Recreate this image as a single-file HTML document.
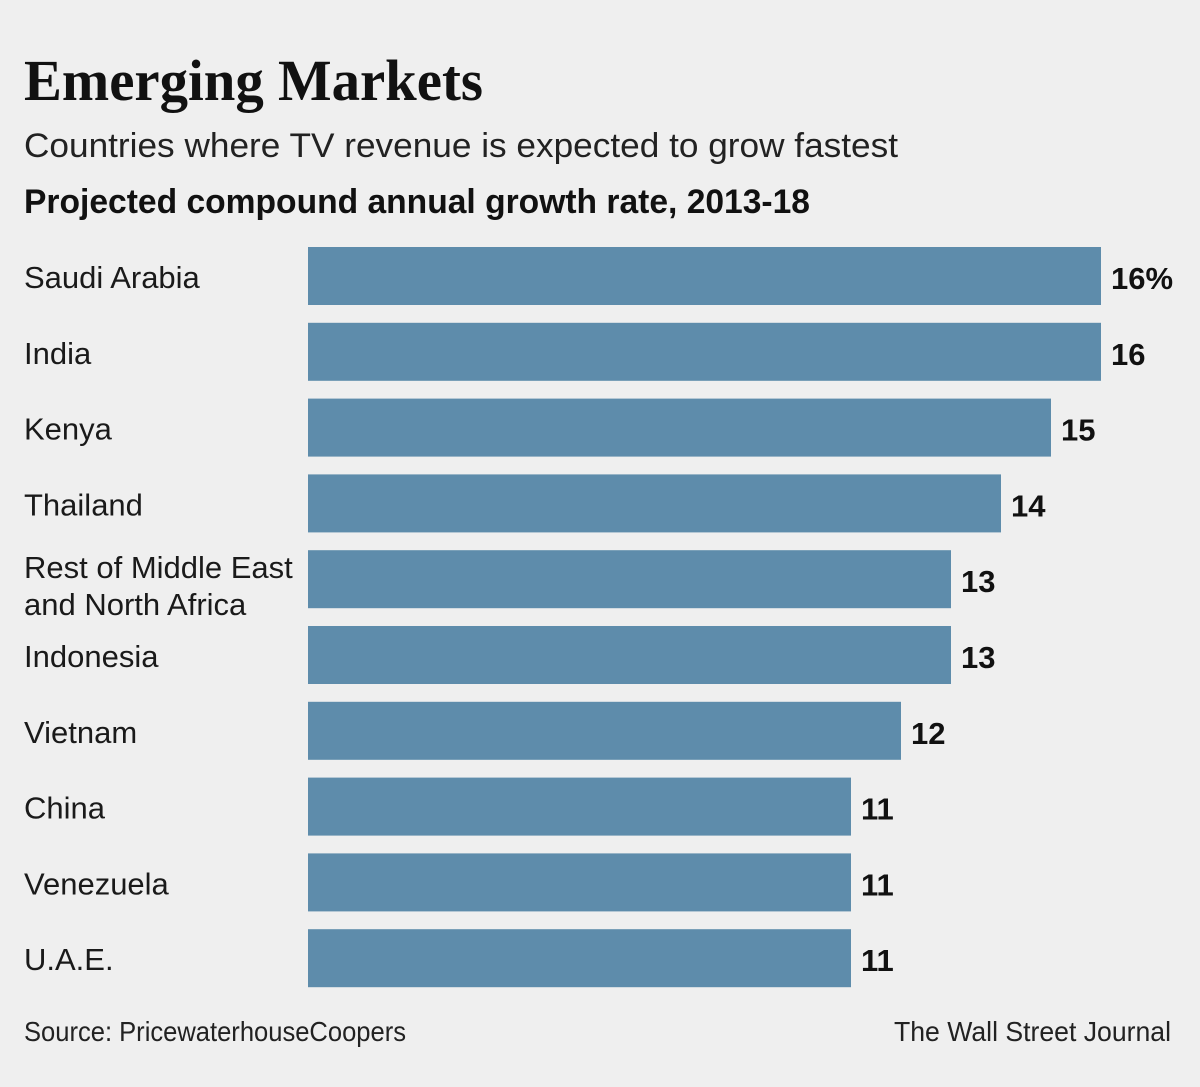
<!DOCTYPE html>
<html><head><meta charset="utf-8"><style>
html,body{margin:0;padding:0;background:#efefef;}
svg{display:block;font-family:"Liberation Sans",sans-serif;}
</style></head><body>
<svg id="chart" width="1200" height="1087" viewBox="0 0 1200 1087">
<rect x="0" y="0" width="1200" height="1087" fill="#efefef"/>
<text x="24" y="100" font-family="Liberation Serif, serif" font-weight="bold" font-size="58" textLength="459" lengthAdjust="spacingAndGlyphs" fill="#111">Emerging Markets</text>
<text x="24" y="157" font-size="34" textLength="874" lengthAdjust="spacingAndGlyphs" fill="#222">Countries where TV revenue is expected to grow fastest</text>
<text x="24" y="213" font-size="34" font-weight="bold" textLength="786" lengthAdjust="spacingAndGlyphs" fill="#111">Projected compound annual growth rate, 2013-18</text>
<g id="bars"></g>
<text x="24" y="1041" font-size="28" textLength="382" lengthAdjust="spacingAndGlyphs" fill="#222">Source: PricewaterhouseCoopers</text>
<text x="1171" y="1041" font-size="28" text-anchor="end" textLength="277" lengthAdjust="spacingAndGlyphs" fill="#222">The Wall Street Journal</text>
</svg>
<script>
const categories = [["Saudi Arabia"],["India"],["Kenya"],["Thailand"],["Rest of Middle East","and North Africa"],["Indonesia"],["Vietnam"],["China"],["Venezuela"],["U.A.E."]];
const values = [16,16,15,14,13,13,12,11,11,11];
const valueLabels = ["16%","16","15","14","13","13","12","11","11","11"];

const NS = "http://www.w3.org/2000/svg";
const g = document.getElementById("bars");
function xScale(v){ return 301 + v*50; }
function yScale(i){ return 247 + i*75.8; }
const barLeft = 308, barH = 58;
function mk(tag, attrs){ const e=document.createElementNS(NS,tag); for(const k in attrs) e.setAttribute(k,attrs[k]); return e; }
categories.forEach((lines,i)=>{
  const y = yScale(i);
  const r = mk("rect",{x:barLeft,y:y,width:xScale(values[i])-barLeft,height:barH,fill:"#5e8cab"});
  
  
  g.appendChild(r);
  const t = mk("text",{x:24,"font-size":31,fill:"#1a1a1a"});
  
  
  if(lines.length===1){
    t.setAttribute("y", y+41);
    t.textContent = lines[0];
  } else {
    lines.forEach((l,j)=>{
      const s = mk("tspan",{x:24,y:y+28+j*37});
      s.textContent = l;
      t.appendChild(s);
    });
  }
  g.appendChild(t);
  const v = mk("text",{x:xScale(values[i])+10,y:y+42,"font-size":31,"font-weight":"bold",fill:"#111"});
  
  
  v.textContent = valueLabels[i];
  g.appendChild(v);
});
</script>
</body></html>
